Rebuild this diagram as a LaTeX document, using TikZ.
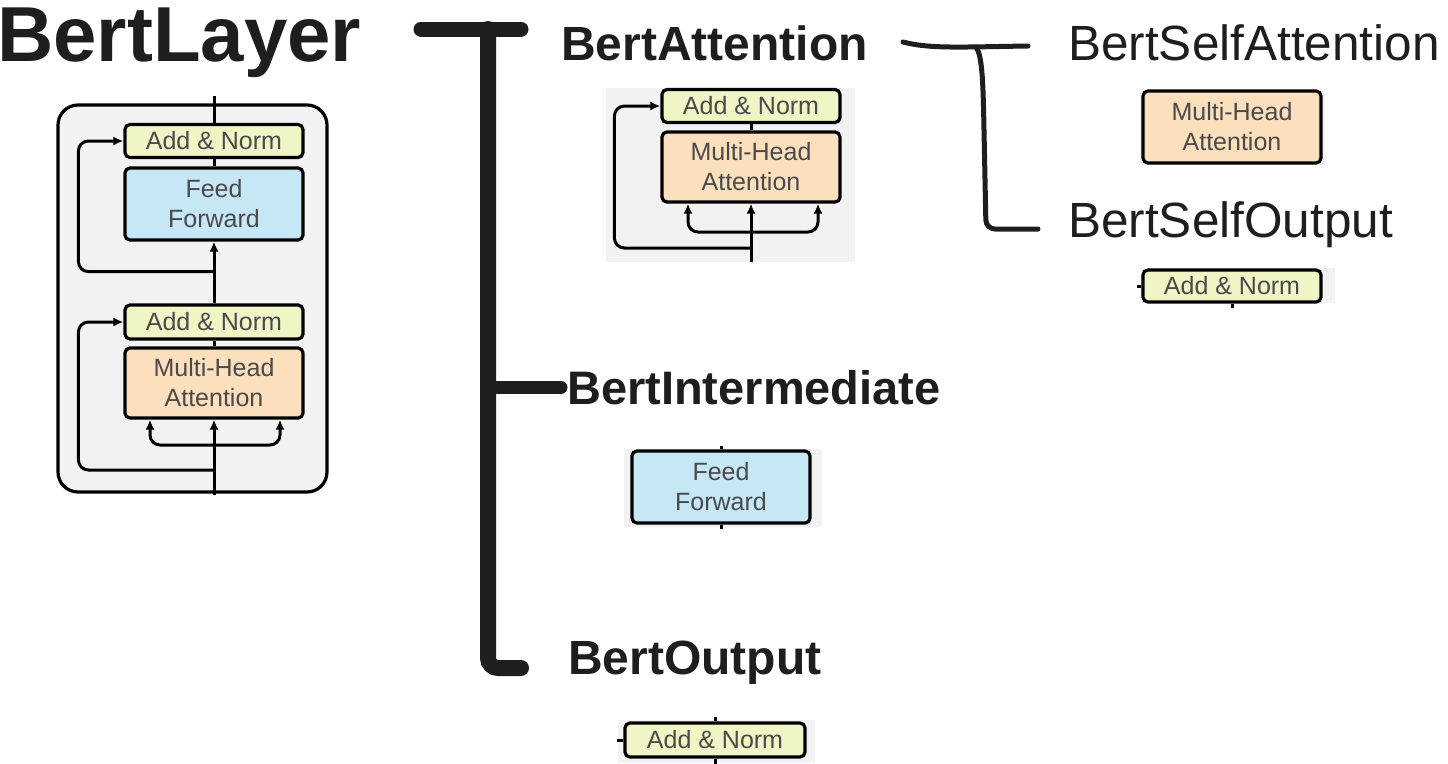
\documentclass[tikz,border=0pt]{standalone}
\usepackage{fontspec}
\setmainfont{Liberation Sans}
\usetikzlibrary{arrows.meta,positioning,calc}
\definecolor{ink}{HTML}{1E1E1E}
\definecolor{boxtext}{HTML}{4A4A4A}
\definecolor{anfill}{HTML}{F1F5C6}
\definecolor{fffill}{HTML}{C6E7F6}
\definecolor{mhafill}{HTML}{FCDFBC}
\definecolor{shotgray}{HTML}{F2F2F2}
\tikzset{
  layerbox/.style={draw=black, line width=3.2pt, rounded corners=5pt, align=center, inner sep=0pt, text=boxtext, font=\fontsize{25}{30}\selectfont},
  addnorm/.style={layerbox, fill=anfill, minimum width=178pt, minimum height=33pt},
  feedfwd/.style={layerbox, fill=fffill, minimum width=178pt, minimum height=72pt},
  mhattn/.style={layerbox, fill=mhafill, minimum width=178pt, minimum height=70pt},
  wire/.style={line width=3pt, draw=black},
  flow/.style={wire, -{Latex[length=10pt,width=9pt]}},
  shot/.style={fill=shotgray, draw=none},
  title/.style={anchor=base west, inner sep=0pt, text=ink, font=\bfseries\fontsize{48}{50}\selectfont},
  subtitle/.style={anchor=base west, inner sep=0pt, text=ink, font=\fontsize{49.5}{52}\selectfont},
  bigbar/.style={line width=15pt, draw=ink, line cap=round},
  thinbar/.style={line width=5pt, draw=ink, line cap=round}
}
\begin{document}
\begin{tikzpicture}[x=1pt, y=-1pt]
\useasboundingbox (0,0) rectangle (1448,763);
\draw[wire, line width=3.2pt, fill=shotgray, rounded corners=20pt] (58,105) rectangle (327,492);
\fill[shot] (606,88) rectangle (855,262);
\fill[shot] (1140,90) rectangle (1325,165);
\fill[shot] (1140,268) rectangle (1335,303);
\fill[shot] (624,449) rectangle (822,527);
\fill[shot] (618,720) rectangle (815,763);

\node[title, font=\bfseries\fontsize{78}{82}\selectfont] (layer) at (-3,61) {BertLayer};
\node[title] (attn) at (561,60) {BertAttention};
\node[title, font=\bfseries\fontsize{47}{50}\selectfont] (inter) at (567,404) {BertIntermediate};
\node[title] (outp) at (568,674) {BertOutput};
\node[subtitle] (selfattn) at (1068,60) {BertSelfAttention};
\node[subtitle] (selfout) at (1068,237) {BertSelfOutput};

\node[addnorm] (ln1) at (214,141) {Add \& Norm};
\node[feedfwd] (lff) at (214,204) {Feed\\Forward};
\node[addnorm, minimum height=34pt] (ln2) at (214,322) {Add \& Norm};
\node[mhattn] (lmha) at (214,383) {Multi-Head\\Attention};
\coordinate (ltop) at (214,96);
\coordinate (lin) at (214,495);
\draw[wire] (ltop) -- (ln1);
\draw[wire] (ln1) -- (lff);
\draw[flow] (ln2) -- (lff);
\draw[wire] (lmha) -- (ln2);
\draw[flow] (lin) -- (lmha);
\draw[flow, rounded corners=10pt] ($(lin)+(0,-25)$) -| ($(ln2.west)+(-45,0)$) -- (ln2.west);
\draw[flow, rounded corners=10pt] ($(lff.south)+(0,30)$) -| ($(ln1.west)+(-45,0)$) -- (ln1.west);
\draw[flow, rounded corners=10pt] ($(lin)+(0,-50)$) -| ($(lmha.south)+(-64,0)$);
\draw[flow, rounded corners=10pt] ($(lin)+(0,-50)$) -| ($(lmha.south)+(66,0)$);

\node[addnorm] (an) at (751,106) {Add \& Norm};
\node[mhattn] (amha) at (751,167) {Multi-Head\\Attention};
\coordinate (ain) at (751,262);
\draw[wire] (amha) -- (an);
\draw[flow] (ain) -- (amha);
\draw[flow, rounded corners=10pt] ($(ain)+(0,-14)$) -| ($(an.west)+(-46,0)$) -- (an.west);
\draw[flow, rounded corners=10pt] ($(ain)+(0,-30)$) -| ($(amha.south)+(-63,0)$);
\draw[flow, rounded corners=10pt] ($(ain)+(0,-30)$) -| ($(amha.south)+(67,0)$);

\node[mhattn, minimum height=72pt] (smha) at (1232,127) {Multi-Head\\Attention};
\node[addnorm, minimum height=32pt] (sn) at (1232,286) {Add \& Norm};
\draw[wire] (sn.west) -- ++(-4,0);
\draw[wire] (sn.south) -- ++(0,4);

\node[feedfwd] (iff) at (721,487) {Feed\\Forward};
\draw[wire] (iff.north) -- ++(0,-3);
\draw[wire] (iff.south) -- ++(0,4);

\node[addnorm, minimum width=180pt, minimum height=34pt] (on) at (715,740) {Add \& Norm};
\draw[wire] (on.west) -- ++(-6,0);
\draw[wire] (on.north) -- ++(0,-4);
\draw[wire] (on.south) -- ++(0,7);

\coordinate (btop) at (488,29);
\coordinate (bbot) at (488,668);
\draw[bigbar] ($(btop)+(-67,0)$) -- ($(btop)+(33,0)$);
\draw[bigbar, line width=16pt, rounded corners=10pt] (btop) -- (bbot) -- ($(bbot)+(33,0)$);
\draw[bigbar, line width=13pt] (btop |- inter.west) -- ($(inter.west)+(-6,0)$);

\coordinate (stop) at (976,47);
\coordinate (sbot) at (986,229);
\draw[thinbar] (903,42) .. controls (930,49) and (960,47) .. (1028,46);
\draw[thinbar, rounded corners=9pt] (stop) .. controls (982,55) and (983,80) .. (984,130) -- (sbot) -- ($(sbot)+(52,0)$);
\end{tikzpicture}
\end{document}
